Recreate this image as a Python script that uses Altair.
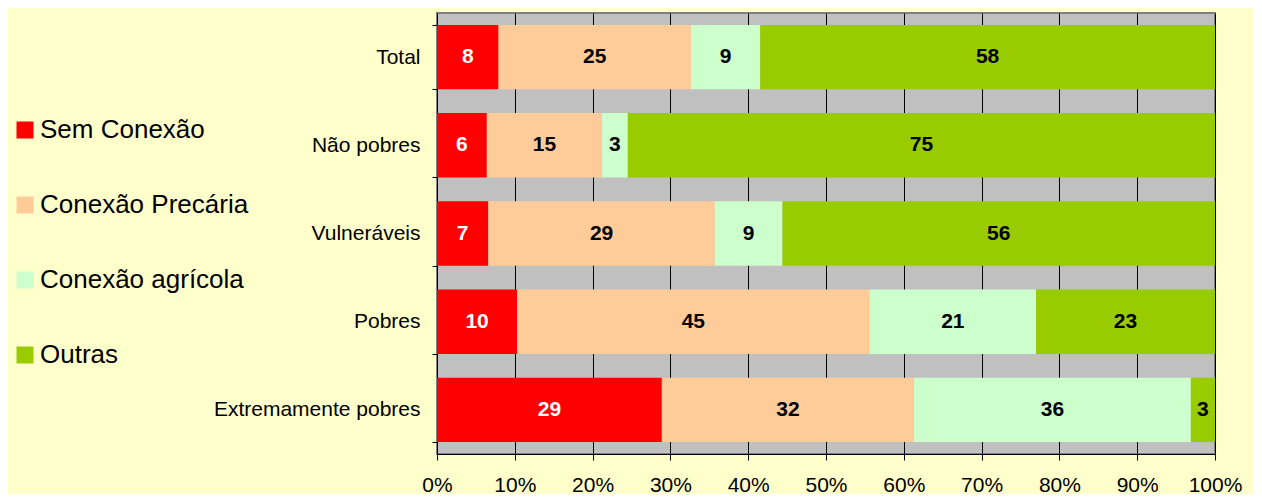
import altair as alt
import pandas as pd

groups = ["Total", "Não pobres", "Vulneráveis", "Pobres", "Extremamente pobres"]
series = ["Sem Conexão", "Conexão Precária", "Conexão agrícola", "Outras"]
colors = ["#FF0000", "#FFCC99", "#CCFFCC", "#99CC00"]

sem_conexao = [7.9, 6.4, 6.6, 10.3, 28.9]
conexao_precaria = [24.7, 14.8, 29.1, 45.3, 32.4]
conexao_agricola = [8.9, 3.3, 8.7, 21.4, 35.6]
outras = [58.4, 75.4, 55.6, 23.0, 3.1]

rows = []
for si, (s, vals) in enumerate(zip(series, [sem_conexao, conexao_precaria, conexao_agricola, outras])):
    for g, v in zip(groups, vals):
        rows.append({"group": g, "series": s, "order": si, "value": v})
df = pd.DataFrame(rows)

FONT = "Liberation Sans, Arial, sans-serif"

base = (
    alt.Chart(df)
    .transform_joinaggregate(total="sum(value)", groupby=["group"])
    .transform_calculate(frac="datum.value / datum.total")
    .transform_stack(stack="frac", groupby=["group"], as_=["x0", "x1"],
                     sort=[alt.SortField("order", order="ascending")])
    .transform_calculate(mid="(datum.x0 + datum.x1) / 2")
)

y_enc = alt.Y(
    "group:N",
    sort=groups,
    title=None,
    scale=alt.Scale(paddingInner=0.27, paddingOuter=0.135),
    axis=alt.Axis(
        labelFont=FONT, labelFontSize=21, labelColor="black", labelLimit=400,
        domainColor="black", tickColor="black", tickSize=5,
        labelPadding=12, tickBand="extent", grid=False,
    ),
)

bars = base.mark_bar(stroke=None).encode(
    x=alt.X(
        "x0:Q",
        scale=alt.Scale(domain=[0, 1], nice=False),
        title=None,
        axis=alt.Axis(
            format="%", values=[i / 10 for i in range(11)],
            labelFont=FONT, labelFontSize=21, labelColor="black", labelFlush=False,
            domainColor="black", tickColor="black", tickSize=6,
            labelPadding=14, grid=True, gridColor="black", gridWidth=1,
            gridOpacity=1,
        ),
    ),
    x2="x1:Q",
    y=y_enc,
    color=alt.Color(
        "series:N",
        scale=alt.Scale(domain=series, range=colors),
        sort=series,
        legend=alt.Legend(
            title=None, orient="none", legendX=-425, legendY=104,
            symbolType="square", symbolSize=289, symbolStrokeWidth=0,
            labelFont=FONT, labelFontSize=26, labelColor="black",
            labelOffset=2, rowPadding=49, padding=0, labelLimit=400,
        ),
    ),
)

labels = base.mark_text(font=FONT, fontSize=21, fontWeight="bold").encode(
    x=alt.X("mid:Q"),
    y=alt.Y("group:N", sort=groups),
    text=alt.Text("value:Q", format=".0f"),
    color=alt.condition(alt.datum.series == "Sem Conexão", alt.value("white"), alt.value("black")),
)

chart = (
    alt.layer(bars, labels)
    .properties(
        width=778, height=441,
        background="#FFFFCC",
        autosize=alt.AutoSizeParams(type="none"),
        padding={"left": 429, "top": 5, "right": 38, "bottom": 40},
    )
    .configure_view(fill="#C0C0C0", stroke="#808080", strokeWidth=2)
)

chart.save("out.html", embed_options={"renderer": "svg", "actions": False})
